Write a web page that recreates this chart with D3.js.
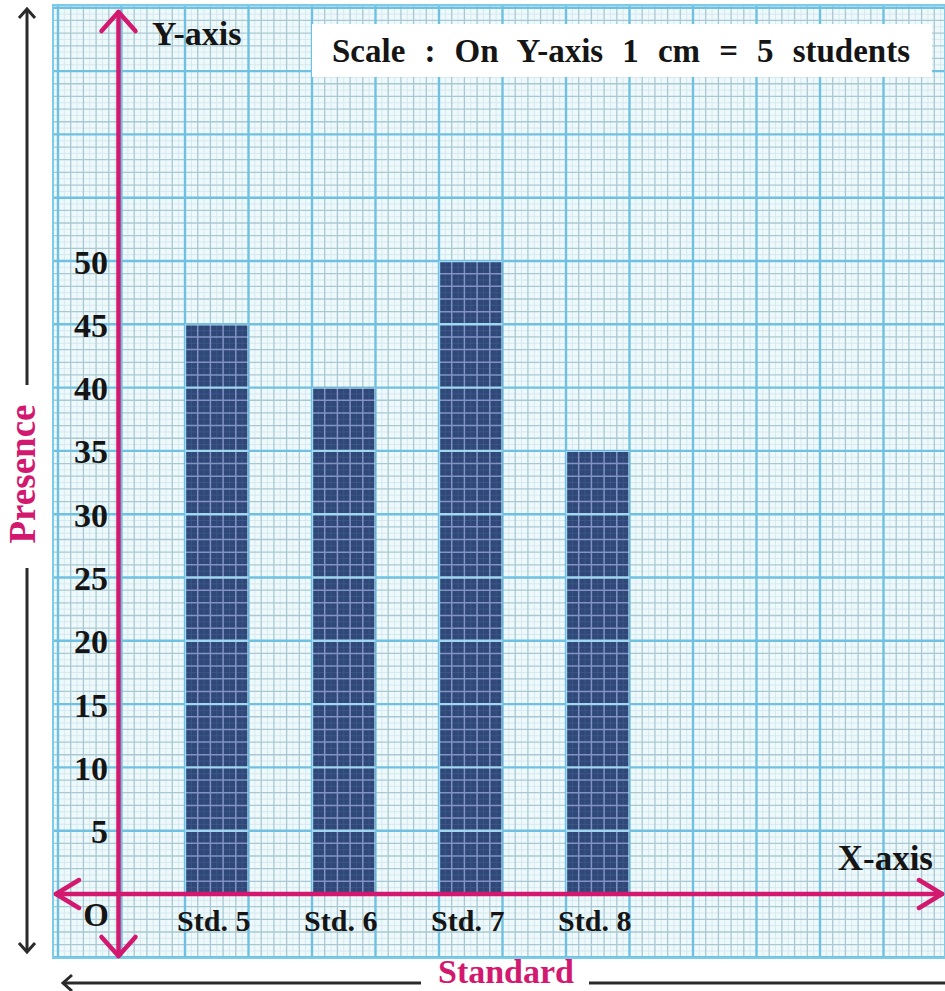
<!DOCTYPE html>
<html><head><meta charset="utf-8">
<script src="https://cdn.jsdelivr.net/npm/d3@7"></script>
<style>body{margin:0;background:#fff}svg{display:block}</style>
</head><body>
<svg id="c" width="945" height="991"></svg>
<script>
// ---- data ----
const categories = ["Std. 5", "Std. 6", "Std. 7", "Std. 8"];
const presence = [45, 40, 50, 35];
const yTicks = [5, 10, 15, 20, 25, 30, 35, 40, 45, 50];
const scaleNote = "Scale : On Y-axis 1 cm = 5 students";
const yAxisTitle = "Y-axis", xAxisTitle = "X-axis", originLabel = "O";
const yTitle = "Presence", xTitle = "Standard";

// ---- layout ----
const W = 945, H = 991;
const cmX = 63.5, cmY = 63.3;
const ox = 121.5, oy = 894;
const paper = {x0: 53, x1: 945, y0: 5, y1: 958};
const pink = "#d2196f", ink = "#151515";
const font = "'Liberation Serif','Times New Roman',serif";

const svg = d3.select("#c");
const x = d3.scaleBand().domain(categories).range([ox, ox + 9 * cmX]).paddingInner(0.5).paddingOuter(0.5);
const y = d3.scaleLinear().domain([0, 5]).range([oy, oy - cmY]); // 1 cm = 5 students

// paper
svg.append("rect").attr("x", paper.x0).attr("y", paper.y0)
  .attr("width", paper.x1 - paper.x0).attr("height", paper.y1 - paper.y0).attr("fill", "#eef9fc");

function gridLines(g, colors, widths) {
  const sx = cmX / 10, sy = cmY / 10;
  const kx0 = Math.ceil((paper.x0 - ox) / sx), kx1 = Math.floor((paper.x1 - ox) / sx);
  const ky0 = Math.ceil((oy - paper.y1) / sy), ky1 = Math.floor((oy - paper.y0) / sy);
  const lv = [], lh = [];
  for (let k = kx0; k <= kx1; k++) lv.push(k);
  for (let k = ky0; k <= ky1; k++) lh.push(k);
  const lvl = k => (k % 10 === 0 ? 2 : (k % 2 === 0 ? 1 : 0));
  [0, 1, 2].forEach(L => {
    g.selectAll(null).data(lv.filter(k => lvl(k) === L)).enter().append("line")
      .attr("x1", k => ox + k * sx).attr("x2", k => ox + k * sx)
      .attr("y1", paper.y0).attr("y2", paper.y1)
      .attr("stroke", colors[L]).attr("stroke-width", widths[L]);
    g.selectAll(null).data(lh.filter(k => lvl(k) === L)).enter().append("line")
      .attr("y1", k => oy - k * sy).attr("y2", k => oy - k * sy)
      .attr("x1", paper.x0).attr("x2", paper.x1)
      .attr("stroke", colors[L]).attr("stroke-width", widths[L]);
  });
}
gridLines(svg.append("g"), ["#d6e9ee", "#aac8d2", "#70c0e2"], [1, 1.3, 2.4]);

// bars
const defs = svg.append("defs");
const clip = defs.append("clipPath").attr("id", "barclip");
categories.forEach((c, i) => {
  clip.append("rect").attr("x", x(c)).attr("y", y(presence[i]))
    .attr("width", x.bandwidth()).attr("height", y(0) - y(presence[i]));
});
svg.append("g").selectAll("rect").data(categories).enter().append("rect")
  .attr("x", c => x(c)).attr("y", (c, i) => y(presence[i]))
  .attr("width", x.bandwidth()).attr("height", (c, i) => y(0) - y(presence[i]))
  .attr("fill", "#2f4878");
gridLines(svg.append("g").attr("clip-path", "url(#barclip)"), ["#3d5688", "#8292c4", "#9fd8f0"], [1, 1.5, 2.4]);

// paper border
svg.append("rect").attr("x", paper.x0).attr("y", paper.y0)
  .attr("width", paper.x1 - paper.x0).attr("height", paper.y1 - paper.y0)
  .attr("fill", "none").attr("stroke", "#7ccbe8").attr("stroke-width", 2);

// pink axes
const axisX = ox - 3;
const pg = svg.append("g").attr("stroke", pink).attr("stroke-width", 4.5).attr("fill", "none")
  .attr("stroke-linecap", "round").attr("stroke-linejoin", "round");
pg.append("line").attr("x1", axisX).attr("x2", axisX).attr("y1", paper.y0 + 7).attr("y2", paper.y1 - 2);
pg.append("line").attr("y1", y(0)).attr("y2", y(0)).attr("x1", paper.x0 + 3).attr("x2", paper.x1 - 3);
const a = 17;
pg.append("path").attr("d", `M${axisX - a},${paper.y0 + 7 + a + 2}L${axisX},${paper.y0 + 7}L${axisX + a},${paper.y0 + 7 + a + 2}`);
pg.append("path").attr("d", `M${axisX - a},${paper.y1 - 2 - a - 2}L${axisX},${paper.y1 - 2}L${axisX + a},${paper.y1 - 2 - a - 2}`);
pg.append("path").attr("d", `M${paper.x0 + 3 + a + 6},${y(0) - a + 3}L${paper.x0 + 3},${y(0)}L${paper.x0 + 3 + a + 6},${y(0) + a - 3}`);
pg.append("path").attr("d", `M${paper.x1 - 3 - a - 6},${y(0) - a + 3}L${paper.x1 - 3},${y(0)}L${paper.x1 - 3 - a - 6},${y(0) + a - 3}`);

// black outer arrows
const bg = svg.append("g").attr("stroke", "#2a2a2a").attr("stroke-width", 3).attr("fill", "none");
const bx = 27, by = 983;
bg.append("line").attr("x1", bx).attr("x2", bx).attr("y1", 9).attr("y2", 385);
bg.append("line").attr("x1", bx).attr("x2", bx).attr("y1", 568).attr("y2", 952);
bg.append("path").attr("d", `M${bx - 8},${18}L${bx},${9}L${bx + 8},${18}`);
bg.append("path").attr("d", `M${bx - 8},${943}L${bx},${952}L${bx + 8},${943}`);
bg.append("line").attr("y1", by).attr("y2", by).attr("x1", 63).attr("x2", 421);
bg.append("line").attr("y1", by).attr("y2", by).attr("x1", 589).attr("x2", 945);
bg.append("path").attr("d", `M${72},${by - 8}L${63},${by}L${72},${by + 8}`);

// text
const T = (txt, px, py, size, anchor, color) => svg.append("text").text(txt)
  .attr("x", px).attr("y", py).attr("font-family", font).attr("font-weight", "bold")
  .attr("font-size", size).attr("text-anchor", anchor || "start").attr("dominant-baseline", "central")
  .attr("fill", color || ink);

svg.append("g").selectAll("text").data(yTicks).enter().append("text")
  .text(d => d).attr("x", 108).attr("y", d => y(d) + 1)
  .attr("font-family", font).attr("font-weight", "bold").attr("font-size", 34)
  .attr("text-anchor", "end").attr("dominant-baseline", "central").attr("fill", ink);

svg.append("g").selectAll("text").data(categories).enter().append("text")
  .text(d => d).attr("x", d => x(d) + x.bandwidth() / 2 - 3).attr("y", 920)
  .attr("font-family", font).attr("font-weight", "bold").attr("font-size", 30)
  .attr("text-anchor", "middle").attr("dominant-baseline", "central").attr("fill", ink);

T(originLabel, 96, 915, 33, "middle");
T(yAxisTitle, 152, 33, 34, "start");
T(xAxisTitle, 933, 858, 35, "end");

// scale note box
svg.append("rect").attr("x", 312).attr("y", 24).attr("width", 620).attr("height", 53).attr("fill", "#ffffff");
const note = T(scaleNote, 332, 51, 33, "start");
const len = note.node().getComputedTextLength();
const spaces = scaleNote.split(" ").length - 1;
note.attr("word-spacing", (578 - len) / spaces);

T(yTitle, 0, 0, 37, "middle", pink).attr("transform", "translate(22,474) rotate(-90)");
T(xTitle, 506, 971, 34, "middle", pink);
</script>
</body></html>
